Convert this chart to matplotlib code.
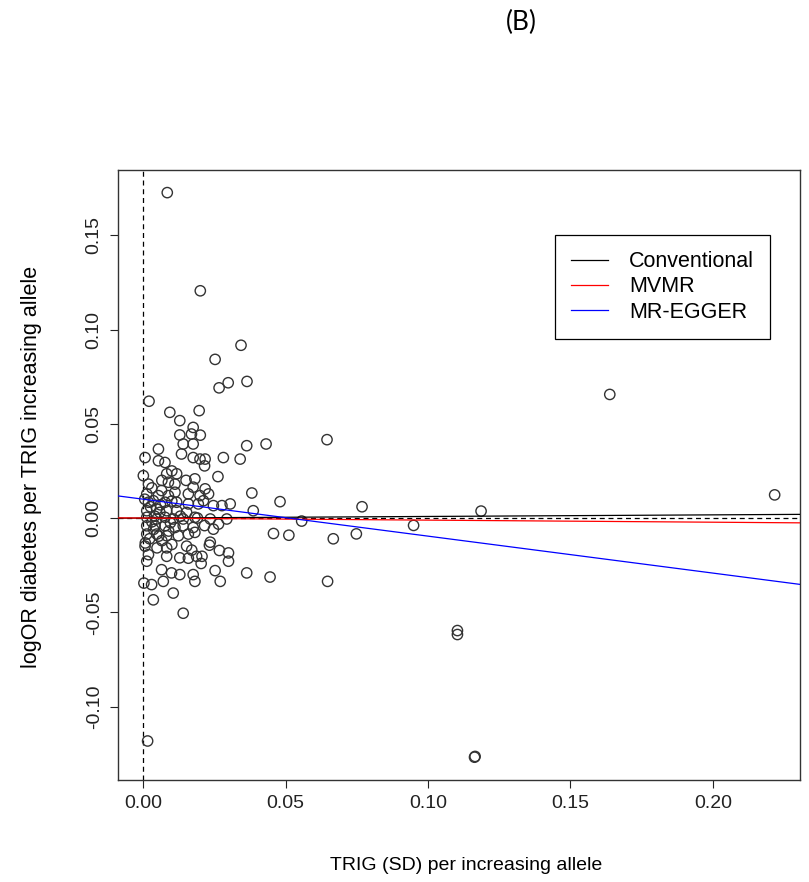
import matplotlib
matplotlib.use("Agg")
import matplotlib.pyplot as plt
import numpy as np

# ---- data ----
trig_x = [
    0.0084, 0.0200, 0.0343, 0.0252, 0.0266, 0.0298, 0.0364, 0.0020, 0.0093, 0.0196,
    0.0128, 0.0175, 0.0128, 0.0169, 0.0200, 0.0140, 0.0175, 0.0363, 0.0431, 0.0645,
    0.0053, 0.0006, 0.0053, 0.0076, 0.0134, 0.0175, 0.0199, 0.0217, 0.0281, 0.0340,
    0.0215, 0.0262, 0.0000, 0.0018, 0.0082, 0.0117, 0.0088, 0.0111, 0.0181, 0.0175,
    0.0217, 0.0229, 0.0064, 0.0012, 0.0053, 0.0088, 0.0111, 0.0158, 0.0199, 0.0381,
    0.0480, 0.0018, 0.0035, 0.0076, 0.0117, 0.0158, 0.0193, 0.0211, 0.0246, 0.0276,
    0.0305, 0.0012, 0.0047, 0.0082, 0.0117, 0.0152, 0.0386, 0.0768, 0.1186, 0.2217,
    0.1638, 0.0012, 0.0047, 0.0076, 0.0105, 0.0140, 0.0181, 0.0235, 0.0293, 0.0556,
    0.0264, 0.0949, 0.0012, 0.0041, 0.0076, 0.0111, 0.0140, 0.0175, 0.0246, 0.0457,
    0.0511, 0.0748, 0.0667, 0.0012, 0.0047, 0.0082, 0.0123, 0.0158, 0.0181, 0.0054,
    0.0089, 0.0007, 0.0235, 0.0006, 0.0082, 0.0048, 0.0152, 0.0232, 0.0267, 0.0018,
    0.0082, 0.0128, 0.0158, 0.0187, 0.0206, 0.0299, 0.0012, 0.0203, 0.0299, 0.0064,
    0.0099, 0.0128, 0.0175, 0.0252, 0.0363, 0.0445, 0.0181, 0.0270, 0.0647, 0.0002,
    0.0029, 0.0070, 0.0105, 0.0035, 0.0140, 0.1103, 0.1103, 0.1163, 0.1165, 0.0015,
    0.0005, 0.0025, 0.0030, 0.0022, 0.0040, 0.0060, 0.0065, 0.0100, 0.0095, 0.0130,
    0.0030, 0.0065, 0.0100, 0.0150, 0.0190, 0.0215, 0.0100, 0.0170, 0.0036, 0.0058,
]
logor_y = [
    0.1727, 0.1206, 0.0917, 0.0842, 0.0691, 0.0718, 0.0725, 0.0620, 0.0561, 0.0570,
    0.0517, 0.0481, 0.0441, 0.0446, 0.0440, 0.0393, 0.0393, 0.0384, 0.0393, 0.0416,
    0.0366, 0.0321, 0.0304, 0.0295, 0.0340, 0.0321, 0.0313, 0.0313, 0.0321, 0.0313,
    0.0277, 0.0220, 0.0225, 0.0180, 0.0235, 0.0235, 0.0190, 0.0180, 0.0208, 0.0164,
    0.0155, 0.0128, 0.0146, 0.0128, 0.0119, 0.0119, 0.0137, 0.0128, 0.0119, 0.0133,
    0.0087, 0.0084, 0.0092, 0.0084, 0.0084, 0.0075, 0.0075, 0.0092, 0.0066, 0.0066,
    0.0075, 0.0039, 0.0048, 0.0039, 0.0039, 0.0030, 0.0039, 0.0060, 0.0037, 0.0123,
    0.0656, 0.0004, -0.0005, 0.0004, -0.0005, -0.0005, 0.0004, -0.0005, -0.0005, -0.0016,
    -0.0032, -0.0039, -0.0041, -0.0041, -0.0041, -0.0050, -0.0041, -0.0050, -0.0059, -0.0082,
    -0.0091, -0.0084, -0.0110, -0.0085, -0.0085, -0.0094, -0.0094, -0.0085, -0.0076, -0.0096,
    -0.0069, -0.0132, -0.0128, -0.0149, -0.0158, -0.0158, -0.0149, -0.0144, -0.0172, -0.0194,
    -0.0203, -0.0211, -0.0213, -0.0203, -0.0203, -0.0185, -0.0229, -0.0241, -0.0229, -0.0274,
    -0.0291, -0.0300, -0.0300, -0.0279, -0.0291, -0.0313, -0.0336, -0.0336, -0.0336, -0.0345,
    -0.0353, -0.0336, -0.0398, -0.0434, -0.0505, -0.0597, -0.0618, -0.1269, -0.1265, -0.1183,
    0.0100, 0.0060, -0.0020, -0.0110, 0.0010, 0.0070, -0.0120, 0.0090, -0.0025, 0.0010,
    0.0160, 0.0200, 0.0250, 0.0200, 0.0000, -0.0040, -0.0140, -0.0170, -0.0060, 0.0030,
]

methods = ["Conventional", "MVMR", "MR-EGGER"]
intercepts = [0.0, 0.0, 0.0100]
slopes = [0.0085, -0.011, -0.196]
line_colors = ["black", "red", "blue"]

xticks = [0.00, 0.05, 0.10, 0.15, 0.20]
yticks = [-0.10, -0.05, 0.00, 0.05, 0.10, 0.15]

# ---- figure ----
W, H = 809, 882
fig = plt.figure(figsize=(W / 100, H / 100), dpi=100)
ax = fig.add_axes([118 / W, 1 - 780 / H, (800 - 118) / W, (780 - 170) / H])

font = "Liberation Sans"
x = np.array(trig_x)
y = np.array(logor_y)

ax.set_xlim(-0.0089, 0.2306)
ax.set_ylim(-0.139, 0.1847)

ax.scatter(x, y, s=55, facecolors="none", edgecolors="#333333", linewidths=1.0, zorder=3)

ax.axhline(0, color="black", lw=0.9, ls=(0, (4, 3)), zorder=2)
ax.axvline(0, color="black", lw=0.9, ls=(0, (4, 3)), zorder=2)

xx = np.array(ax.get_xlim())
for name, a, b, c in zip(methods, intercepts, slopes, line_colors):
    ax.plot(xx, a + b * xx, color=c, lw=0.9, label=name, zorder=4)
ax.set_xlim(-0.0089, 0.2306)

ax.set_xticks(xticks)
ax.set_xticklabels([f"{t:.2f}" for t in xticks], fontfamily=font, fontsize=14)
ax.set_yticks(yticks)
ax.set_yticklabels([f"{t:.2f}" for t in yticks], fontfamily=font, fontsize=14,
                   rotation=90, va="center")
ax.tick_params(axis="x", direction="out", length=6, width=0.8, pad=5, colors="#222222")
ax.tick_params(axis="y", direction="out", length=6, width=0.8, pad=5, colors="#222222")
for sp in ax.spines.values():
    sp.set_linewidth(1.0)
    sp.set_color("#333333")

leg = ax.legend(loc="upper left", bbox_to_anchor=((555 - 118) / 682, (780 - 235) / 610),
                prop={"family": font, "size": 15.5}, frameon=True, fancybox=False,
                edgecolor="black", framealpha=1, borderpad=0.75, handlelength=1.7,
                labelspacing=0.2, handletextpad=1.0, borderaxespad=0)
leg.get_frame().set_linewidth(0.9)

fig.text(466 / W, 1 - 865 / H, "TRIG (SD) per increasing allele", ha="center", va="center",
         fontfamily=font, fontsize=14)
fig.text(32 / W, 1 - 467 / H, "logOR diabetes per TRIG increasing allele", ha="center",
         va="center", rotation=90, fontfamily=font, fontsize=15.5)
fig.text(521 / W, 1 - 22 / H, "(B)", ha="center", va="center", fontfamily="Lato", fontsize=19)

fig.savefig("out.png", dpi=100)
